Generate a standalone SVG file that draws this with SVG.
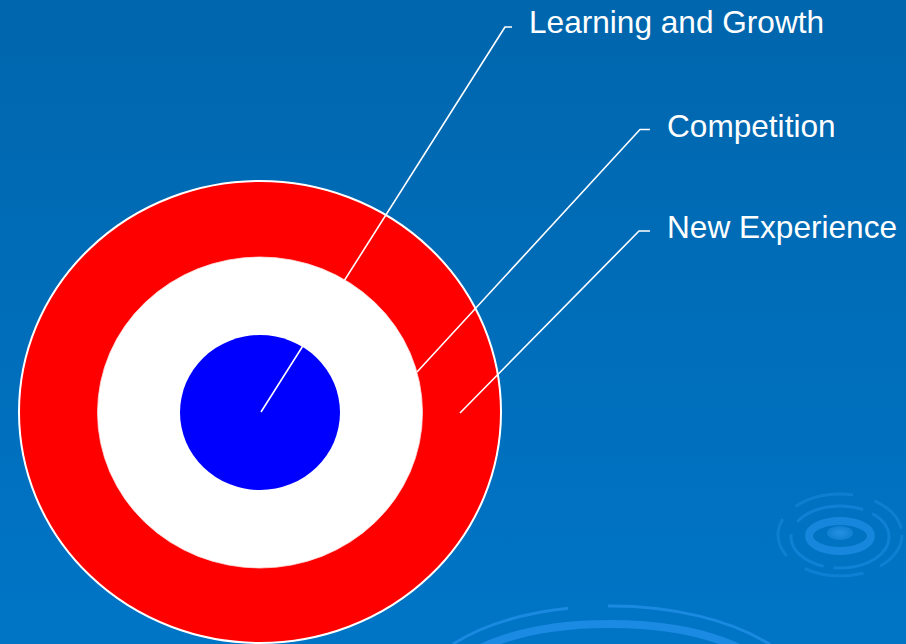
<svg xmlns="http://www.w3.org/2000/svg" width="906" height="644" viewBox="0 0 906 644">
  <defs>
    <linearGradient id="bg" x1="0" y1="0" x2="0" y2="1">
      <stop offset="0" stop-color="#0066AD"/>
      <stop offset="1" stop-color="#0075C6"/>
    </linearGradient>
    <radialGradient id="spot" cx="0.5" cy="0.5" r="0.5">
      <stop offset="0" stop-color="#2f98ea"/>
      <stop offset="1" stop-color="#1583d6"/>
    </radialGradient>
  </defs>
  <style>
    .lbl { font-family: "Liberation Sans", Arial, sans-serif; font-size: 31.6px; fill: #FFFFFF; }
    .lead { fill: none; stroke: #FFFFFF; stroke-width: 1.6; stroke-linejoin: round; }
    .rip { fill: none; stroke: #1E8DE4; }
  </style>

  <rect x="0" y="0" width="906" height="644" fill="url(#bg)"/>

  <!-- background ripples -->
  <g id="ripples">
    <path class="rip" d="M453,644 A200,98 0 0 1 568,608.3" stroke-width="3" opacity="0.85"/>
    <path class="rip" d="M608,606 A200,98 0 0 1 770,644.6" stroke-width="3" opacity="0.85"/>
    <ellipse class="rip" cx="610" cy="683" rx="160" ry="59" stroke-width="8" opacity="0.9"/>
    <ellipse class="rip" cx="840" cy="535" rx="62" ry="41" stroke-width="3" stroke-dasharray="40 18 60 22" opacity="0.45"/>
    <ellipse class="rip" cx="840" cy="537" rx="49" ry="31" stroke-width="3" stroke-dasharray="70 10 50 14" opacity="0.55"/>
    <ellipse class="rip" cx="840" cy="536" rx="31" ry="15" stroke-width="8" opacity="0.75"/>
    <ellipse cx="840" cy="533" rx="13" ry="7" fill="url(#spot)" opacity="0.8"/>
  </g>

  <g id="target">
    <ellipse id="ring-outer" cx="260" cy="412" rx="241" ry="231" fill="#FF0000" stroke="#FFFFFF" stroke-width="2"/>
    <ellipse id="ring-middle" cx="260" cy="412.5" rx="162.5" ry="155.5" fill="#FFFFFF" stroke="#FFE0E0" stroke-width="0.8"/>
    <ellipse id="ring-inner" cx="260" cy="412.5" rx="80" ry="77.5" fill="#0000FF"/>
  </g>

  <g id="connectors">
    <polyline class="lead" points="512,27 505,27 261,412"/>
    <polyline class="lead" points="650,129.5 640,129.5 417,372"/>
    <polyline class="lead" points="650,231 639,231 460,413"/>
  </g>

  <g id="label-learning"><text class="lbl" x="529" y="33">Learning and Growth</text></g>
  <g id="label-competition"><text class="lbl" x="667" y="137">Competition</text></g>
  <g id="label-new-experience"><text class="lbl" x="667" y="238">New Experience</text></g>
</svg>
